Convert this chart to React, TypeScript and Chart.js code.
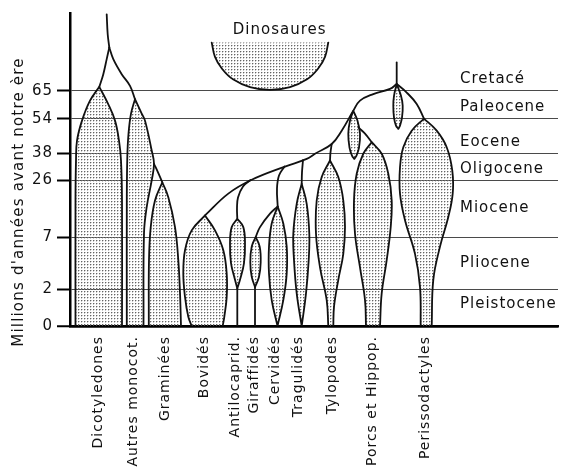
import React, { useEffect, useRef } from 'react';
import { Chart, registerables, LinearScale } from 'chart.js';

type Pt = [number, number];

// ---------- categories / axis ----------
const categoryNames = ['Dicotyledones', 'Autres monocot.', 'Graminées', 'Bovidés', 'Antilocaprid.', 'Giraffidés', 'Cervidés', 'Tragulidés', 'Tylopodes', 'Porcs et Hippop.', 'Perissodactyles'];
const categoryPositions = [28, 63, 95, 134, 165, 184, 205, 228, 262, 302, 355];
const tickAges = [0, 2, 7, 26, 38, 54, 65];
const eraNames = ['Cretacé', 'Paleocene', 'Eocene', 'Oligocene', 'Miocene', 'Pliocene', 'Pleistocene'];
const eraLabelAges = [69.6, 58.4, 43.2, 31.2, 16.6, 4.5, 1.2];
const eraLabelX = 390;
const dinoLabel: Pt = [209.7, 88.5];
const yTitle = "Millions d'années avant notre ère";

// ---------- lineages: [position, age in Ma] ----------
const dicotStem: Pt[] = [[36.7, 94.5], [37.7, 86.8], [39.3, 81.7]];
const dicotBranch: Pt[] = [[39.3, 81.7], [36.7, 77.2], [33.3, 71.4], [29.3, 66.5]];
const monocotBranch: Pt[] = [[39.3, 81.7], [43.3, 77.2], [51.7, 71.4], [60, 66.9], [65, 61.7]];
const dicotyledones: Pt[] = [[5.5, 0], [5.5, 19.3], [6, 34.9], [7, 43.9], [12, 53.1], [20, 61.1], [29.3, 66.5], [29.3, 66.5], [38, 59.9], [45, 53.1], [49, 43.9], [51, 34.9], [52, 19.3], [52, 0]];
const autresMonocot: Pt[] = [[56.8, 0], [56.8, 19.3], [57.3, 36.2], [58.5, 47.1], [61, 56], [65, 61.7], [65, 61.7], [71.7, 56], [75, 53.1], [81.7, 39.4], [84, 33.4], [81.7, 26], [76.7, 17.1], [74, 8.3], [73.5, 0]];
const gramineesLink: Pt[] = [[84, 33.4], [88, 29.6], [92.3, 25.4]];
const graminees: Pt[] = [[78.8, 0], [79, 4.8], [80.7, 10.3], [85, 19.3], [92.3, 25.4], [92.3, 25.4], [98.3, 20.4], [105, 10.4], [108.3, 4.8], [110, 1.8], [111, 0]];
const bovides: Pt[] = [[121.7, 0], [118.3, 0.5], [115, 1.58], [113.3, 3.5], [115, 5.75], [121.7, 9.3], [135, 14.3], [135, 14.3], [145, 9.3], [153.3, 5.75], [156.7, 3.5], [156.7, 1.58], [154.3, 0.5], [152.7, 0]];
const ongulesArc: Pt[] = [[135, 14.3], [158.3, 21.6], [181.7, 26.3], [215, 32.2], [236.7, 35.6], [245, 37.9], [261.7, 42.4], [271.7, 48.5], [283.3, 57.1], [290, 61.1], [303.3, 63.7], [320, 65.7], [326.7, 67.6]];
const topStem: Pt[] = [[326.7, 75.9], [326.7, 67.6]];
const perissoLink: Pt[] = [[326.7, 67.6], [336.7, 64.3], [346.7, 59.8], [354, 54]];
const topSpindle: Pt[] = [[326.7, 67.6], [324, 63], [323.3, 59.1], [324, 54.4], [326, 50.8], [328.3, 49.3], [328.3, 49.3], [330, 50.8], [332, 54.4], [332.7, 59.1], [331, 63], [326.7, 67.6]];
const nodeSpindle: Pt[] = [[283.3, 57.1], [280, 53.1], [278.3, 47.1], [279.5, 40.7], [282, 37.1], [284.3, 35.6], [284.3, 35.6], [286.5, 37.1], [289, 40.7], [290, 47.1], [287.5, 53.1], [283.3, 57.1]];
const porcsLink: Pt[] = [[288.5, 49.9], [295, 47.1], [301.7, 43.2]];
const porcsHippop: Pt[] = [[296, 0], [295, 1.4], [290, 4.1], [285, 8.2], [284, 19.3], [286.7, 29], [293.3, 37.9], [301.7, 43.2], [301.7, 43.2], [311.7, 37.9], [318.3, 29], [321.7, 19.3], [320.7, 10.4], [316.7, 4.8], [311.7, 1.77], [310, 0]];
const perissodactyles: Pt[] = [[350.7, 0], [350, 2.2], [345, 5.4], [335, 12.7], [330, 21.6], [330, 31.9], [333.3, 40.9], [341.7, 48.5], [354, 54], [354, 54], [366.7, 48.5], [376.7, 40.9], [382.3, 30.4], [382.7, 21.6], [378.3, 13.8], [370, 6.1], [363.3, 2.9], [361.7, 0]];
const tylopodesStem: Pt[] = [[261.7, 42.4], [260.5, 38.5], [260, 34.9]];
const tylopodes: Pt[] = [[258.3, 0], [256.7, 1.4], [250, 4.1], [246, 8.2], [246.7, 19.3], [251.7, 27.5], [260, 34.9], [260, 34.9], [268.3, 27.5], [273.3, 19.3], [275, 10.4], [273.3, 5.4], [268.3, 2.9], [264, 1.04], [263.3, 0]];
const tragulidesStem: Pt[] = [[233, 35.1], [232, 29.6], [231.7, 24.9]];
const tragulides: Pt[] = [[231.7, 0], [226.7, 1.77], [224, 4.8], [223.3, 8.2], [226.7, 18.2], [231.7, 24.9], [231.7, 24.9], [236.7, 18.2], [239.3, 8.2], [238.7, 4.8], [236, 1.77], [231.7, 0]];
const cervidesStem: Pt[] = [[214.5, 32.2], [209, 28.2], [207, 23.3], [207.7, 17.3]];
const cervides: Pt[] = [[207.5, 0], [201.7, 1.4], [199, 3.5], [199, 6.1], [201.7, 11.6], [207.7, 17.3], [207.7, 17.3], [213.3, 11.6], [216.7, 6.1], [216.7, 3.5], [213.3, 1.4], [207.5, 0]];
const giraffidesLink: Pt[] = [[207.7, 17.3], [200, 14.9], [190, 10.4], [185.7, 7.1]];
const giraffides: Pt[] = [[185.7, 7.1], [181.7, 6.1], [180.3, 4.6], [181.7, 3.2], [185, 2.2], [185, 2.2], [189, 3.2], [190.7, 4.6], [189.7, 6.1], [185.7, 7.1]];
const giraffidesRoot: Pt[] = [[185, 2.2], [185, 0]];
const antilocapridStem: Pt[] = [[180.5, 26.2], [173, 24], [168, 20.3], [167, 16.7], [167.3, 13.2]];
const antilocaprides: Pt[] = [[167.3, 13.2], [161.7, 10.4], [160, 6.4], [161, 4.5], [165, 2.9], [167.3, 2.07], [167.3, 2.07], [170, 2.9], [174, 4.5], [175, 6.4], [173.3, 10.4], [167.3, 13.2]];
const antilocapridRoot: Pt[] = [[167.3, 2.07], [167.3, 0]];
const dinosaures: Pt[] = [[141.7, 83.6], [145, 78.1], [152, 73.5], [163, 69.4], [180, 66.4], [200, 65.3], [220, 66.4], [237, 69.4], [248, 73.5], [255, 78.1], [258.3, 83.6]];

const filledShapes: Pt[][] = [dicotyledones, autresMonocot, graminees, bovides, antilocaprides, giraffides, cervides, tragulides, tylopodes, porcsHippop, perissodactyles, topSpindle, nodeSpindle, dinosaures];
const branchLines: Pt[][] = [dicotStem, dicotBranch, monocotBranch, gramineesLink, ongulesArc, topStem, perissoLink, porcsLink, tylopodesStem, tragulidesStem, cervidesStem, giraffidesLink, giraffidesRoot, antilocapridStem, antilocapridRoot];

// ---------- geologic time axis (piecewise, as drawn) ----------
const axisBreakAges = [0, 2, 7, 26, 38, 54, 65, 95];
const axisBreakFrac = [0, 0.1178, 0.2834, 0.465, 0.551, 0.6624, 0.7516, 1];

function ageToFrac(a: number): number {
  const n = axisBreakAges.length;
  let i = 0;
  while (i < n - 2 && a > axisBreakAges[i + 1]) i++;
  const a0 = axisBreakAges[i], a1 = axisBreakAges[i + 1];
  const f0 = axisBreakFrac[i], f1 = axisBreakFrac[i + 1];
  return f0 + ((a - a0) / (a1 - a0)) * (f1 - f0);
}
function fracToAge(f: number): number {
  const n = axisBreakFrac.length;
  let i = 0;
  while (i < n - 2 && f > axisBreakFrac[i + 1]) i++;
  const a0 = axisBreakAges[i], a1 = axisBreakAges[i + 1];
  const f0 = axisBreakFrac[i], f1 = axisBreakFrac[i + 1];
  return a0 + ((f - f0) / (f1 - f0)) * (a1 - a0);
}

class EraScale extends LinearScale {
  static id = 'era';
  static defaults = {};
  buildTicks() {
    return tickAges.map((v) => ({ value: v }));
  }
  getPixelForValue(value: number) {
    return this.getPixelForDecimal(ageToFrac(value));
  }
  getValueForPixel(pixel: number) {
    return fracToAge(this.getDecimalForPixel(pixel));
  }
}

Chart.register(...registerables, EraScale as any);

const FONT = '"DejaVu Sans", "Liberation Sans", sans-serif';

const textPlugin = {
  id: 'diagramTexts',
  beforeDraw(chart: any) {
    chart.ctx.letterSpacing = '1px';
  },
  beforeDatasetsDraw(chart: any) {
    chart.ctx.letterSpacing = '0px';
  },
  afterDraw(chart: any) {
    const { ctx } = chart;
    const xs = chart.scales.x;
    const ys = chart.scales.y;
    ctx.save();
    ctx.fillStyle = '#111';
    ctx.font = `15px ${FONT}`;
    ctx.letterSpacing = '1px';
    ctx.textAlign = 'left';
    ctx.textBaseline = 'middle';
    eraNames.forEach((name, i) => {
      ctx.fillText(name, xs.getPixelForValue(eraLabelX), ys.getPixelForValue(eraLabelAges[i]));
    });
    ctx.textAlign = 'center';
    ctx.fillText('Dinosaures', xs.getPixelForValue(dinoLabel[0]), ys.getPixelForValue(dinoLabel[1]));
    ctx.restore();

    ctx.save();
    ctx.fillStyle = '#111';
    ctx.font = `15px ${FONT}`;
    ctx.letterSpacing = '1.2px';
    ctx.textAlign = 'center';
    ctx.textBaseline = 'middle';
    ctx.translate(19, 202);
    ctx.rotate(-Math.PI / 2);
    ctx.fillText(yTitle, 0, 0);
    ctx.restore();
    ctx.letterSpacing = '0px';
  },
};

function makePattern(): CanvasPattern | string {
  const c = document.createElement('canvas');
  c.width = 3;
  c.height = 3;
  const g = c.getContext('2d');
  if (!g) return '#e0e0e0';
  g.fillStyle = 'rgba(100,100,100,1)';
  g.fillRect(0, 0, 1, 1);
  g.fillStyle = 'rgba(150,150,150,0.5)';
  g.fillRect(1, 0, 1, 1);
  g.fillRect(0, 1, 1, 1);
  const p = g.createPattern(c, 'repeat');
  return p || '#e0e0e0';
}

export default function App() {
  const ref = useRef<HTMLCanvasElement>(null);

  useEffect(() => {
    const canvas = ref.current;
    if (!canvas) return;
    const pattern = makePattern();

    const lineStyle = {
      borderColor: '#111',
      borderWidth: 1.8,
      pointRadius: 0,
      pointHoverRadius: 0,
      tension: 0.4,
      borderJoinStyle: 'round' as const,
      borderCapStyle: 'round' as const,
    };

    const datasets: any[] = [
      ...filledShapes.map((pts) => ({
        ...lineStyle,
        data: pts.map(([x, y]) => ({ x, y })),
        fill: 'shape',
        backgroundColor: pattern,
      })),
      ...branchLines.map((pts) => ({
        ...lineStyle,
        data: pts.map(([x, y]) => ({ x, y })),
        fill: false,
        backgroundColor: 'transparent',
      })),
    ];

    const chart = new Chart(canvas, {
      type: 'line',
      data: { datasets },
      options: {
        animation: false,
        responsive: false,
        events: [],
        layout: { padding: { top: 12, right: 8, left: 0, bottom: 0 } },
        plugins: {
          legend: { display: false },
          tooltip: { enabled: false },
          filler: { drawTime: 'beforeDatasetsDraw' },
        } as any,
        scales: {
          x: {
            type: 'linear',
            min: 0,
            max: 488,
            afterBuildTicks: (s: any) => {
              s.ticks = categoryPositions.map((v) => ({ value: v }));
            },
            afterFit: (s: any) => {
              s.height = 141;
            },
            grid: { display: false, drawTicks: false },
            border: { display: true, color: '#000', width: 2.5 },
            ticks: {
              autoSkip: false,
              maxRotation: 90,
              minRotation: 90,
              padding: 10,
              color: '#111',
              font: { family: FONT, size: 14 },
              callback: (_v: any, i: number) => categoryNames[i],
            },
          },
          y: {
            type: 'era' as any,
            min: 0,
            max: 95,
            afterFit: (s: any) => {
              s.width = 70;
            },
            grid: {
              color: (c: any) => (c.tick && c.tick.value === 0 ? '#000' : '#4a4a4a'),
              lineWidth: (c: any) => (c.tick && c.tick.value === 0 ? 2.5 : 1),
              tickLength: 13,
              tickWidth: 2,
              tickColor: '#000',
            },
            border: { display: true, color: '#000', width: 2.5 },
            ticks: {
              padding: 4,
              color: '#111',
              font: { family: FONT, size: 15 },
              callback: (v: any) => String(v),
            },
          } as any,
        },
      },
      plugins: [textPlugin],
    });

    return () => chart.destroy();
  }, []);

  return (
    <div style={{ position: 'fixed', left: 0, top: 0, width: 566, height: 467, background: '#fff' }}>
      <canvas ref={ref} width={566} height={467} style={{ display: 'block', width: 566, height: 467 }} />
    </div>
  );
}
